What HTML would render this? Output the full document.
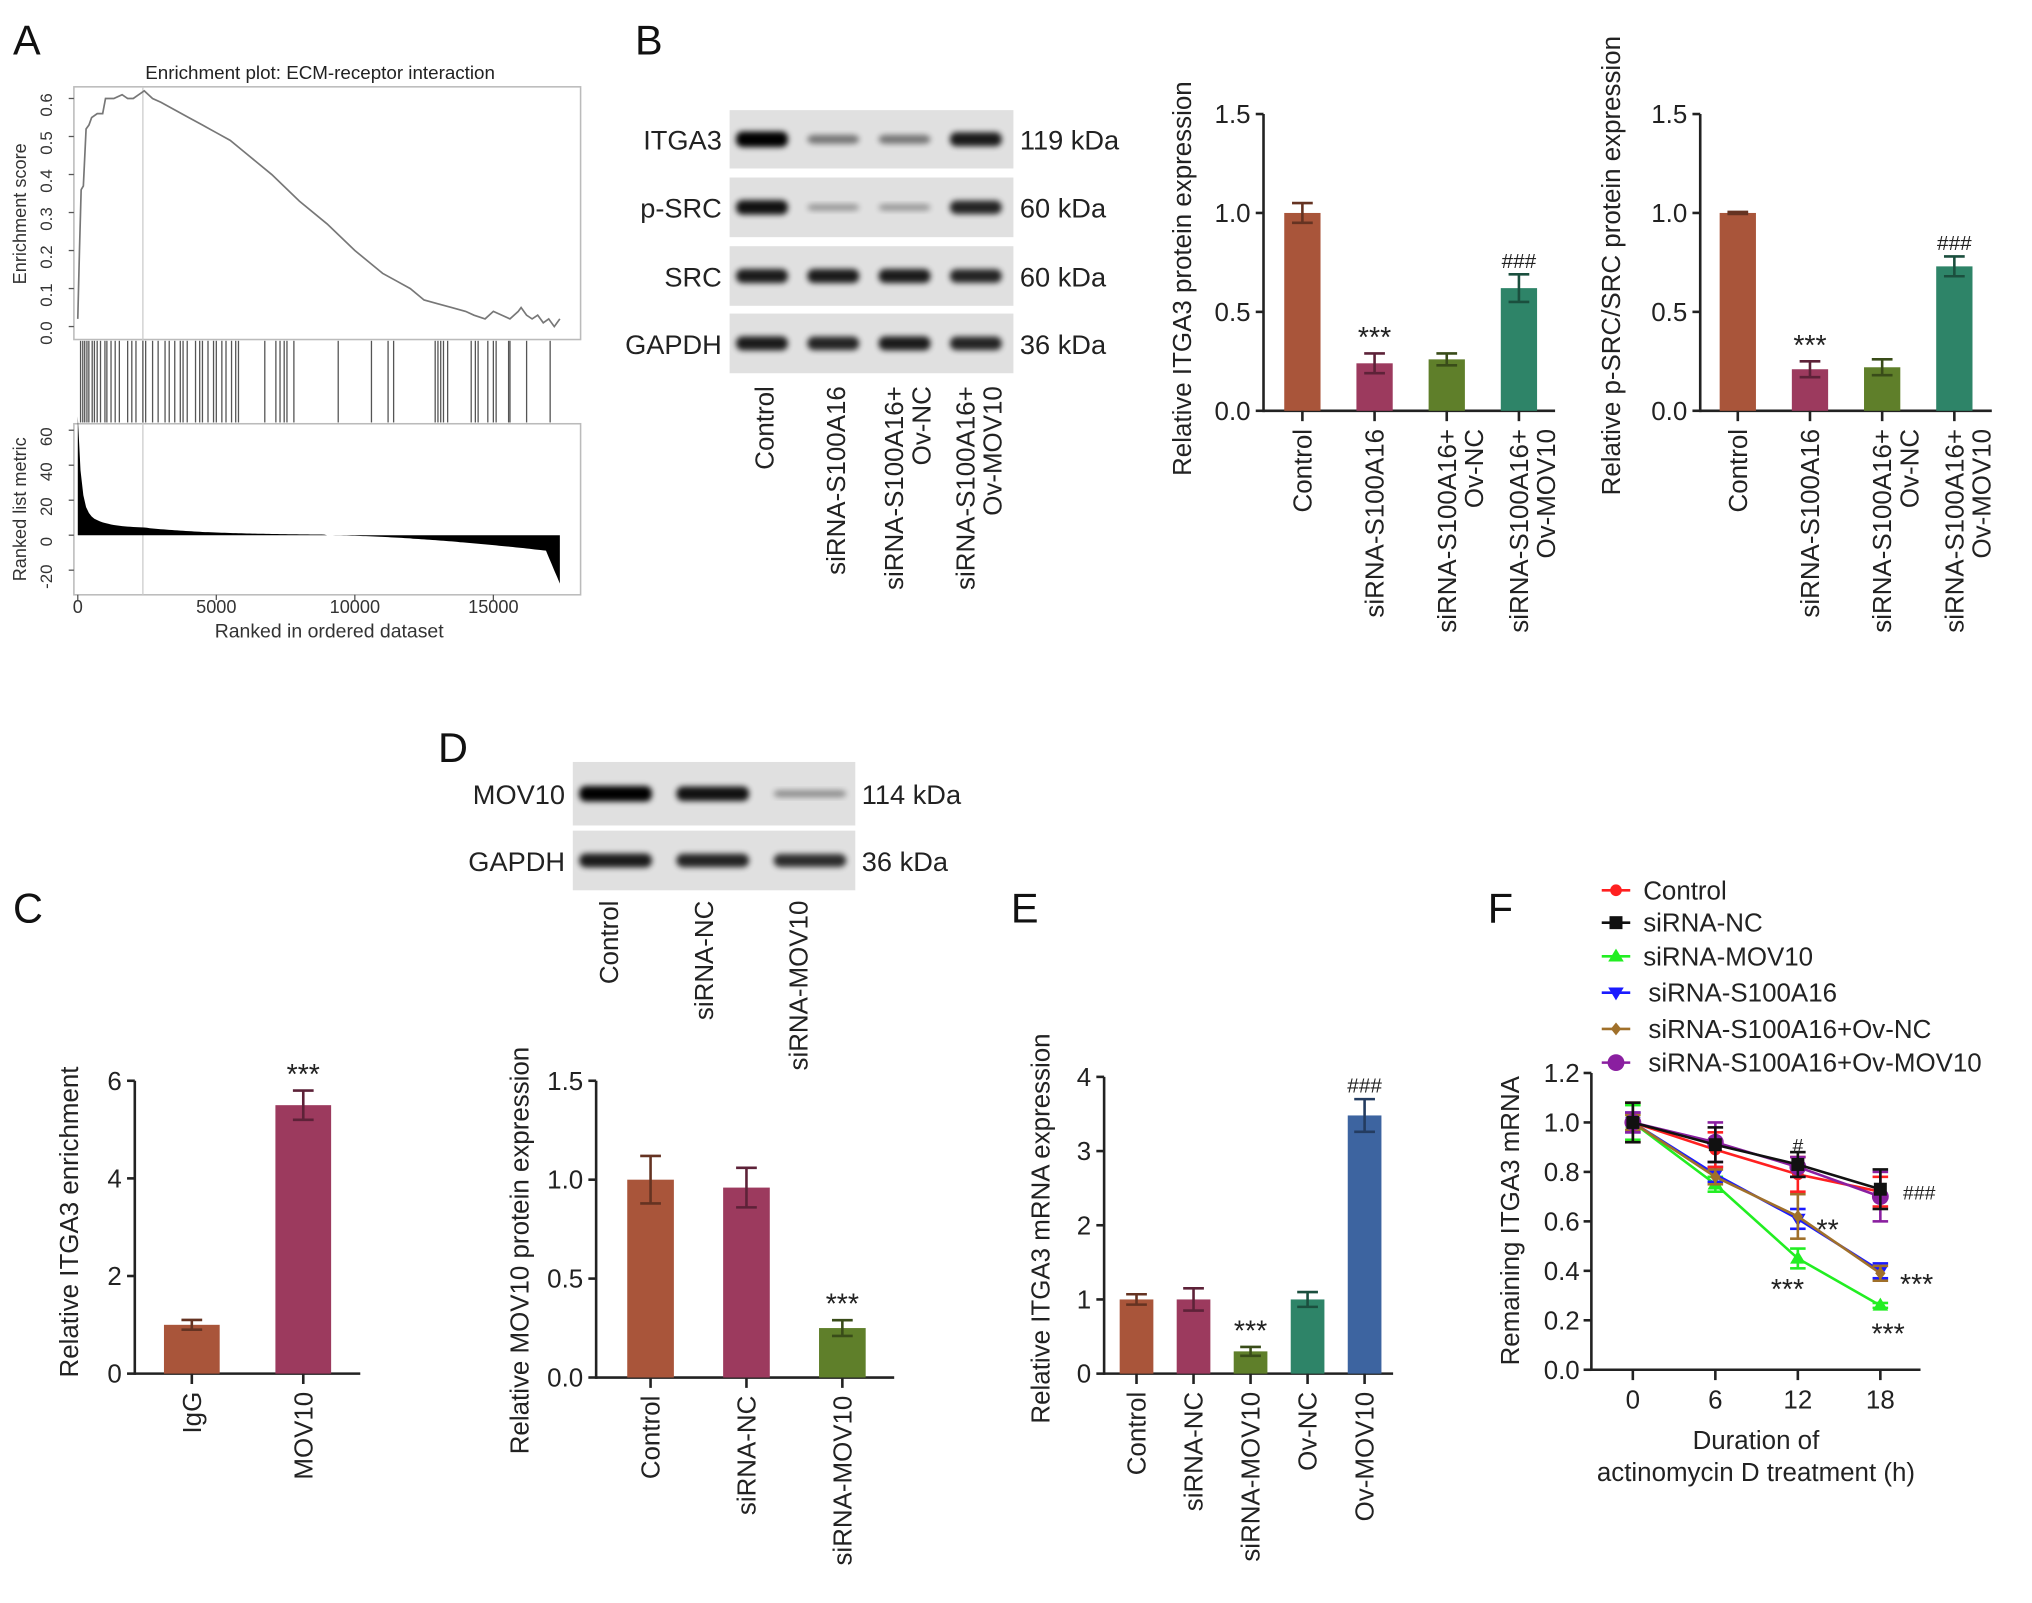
<!DOCTYPE html>
<html><head><meta charset="utf-8">
<style>
html,body{margin:0;padding:0;background:#fff;}
svg{display:block;font-family:"Liberation Sans",Arial,sans-serif;}
</style></head>
<body>
<svg id="fig" xmlns="http://www.w3.org/2000/svg" width="2032" height="1603" viewBox="0 0 1568 1237">
<defs>
<filter id="blur" x="-20%" y="-50%" width="140%" height="200%"><feGaussianBlur stdDeviation="2.2"/></filter>
</defs>
</svg>
<script>
// ---------- DATA ----------
const gseaRank = [0,60,120,200,300,400,500,700,900,1000,1300,1600,1800,2000,2200,2400,2700,3000,3500,4000,4500,5000,5500,6000,7000,8000,9000,10000,11000,11500,12000,12500,13000,13500,14000,14300,14700,15000,15300,15600,15900,16000,16200,16400,16600,16800,17000,17200,17400];
const gseaES = [0.02,0.2,0.36,0.37,0.52,0.53,0.55,0.56,0.56,0.6,0.6,0.61,0.6,0.6,0.61,0.62,0.6,0.59,0.57,0.55,0.53,0.51,0.49,0.46,0.4,0.33,0.27,0.2,0.14,0.12,0.1,0.07,0.06,0.05,0.04,0.03,0.02,0.04,0.03,0.02,0.04,0.05,0.03,0.02,0.03,0.01,0.02,0.0,0.02];
const gseaHits = [100,180,250,330,400,520,600,700,820,980,1050,1200,1350,1500,1800,1950,2100,2350,2450,2700,2900,3150,3300,3500,3700,3800,3950,4250,4400,4500,4700,4900,5000,5200,5350,5550,5700,5800,6750,7150,7300,7450,7550,7800,9400,10600,11200,11400,12900,13000,13100,13200,13350,14200,14350,14450,14800,15000,15100,15550,15600,16200,17050];
const gseaMetricTicks = [-20,0,20,40,60];
const gseaESTicks = [0,0.1,0.2,0.3,0.4,0.5,0.6];
const gseaXTicks = [0,5000,10000,15000];

const bGroups = ["Control","siRNA-S100A16","siRNA-S100A16+\nOv-NC","siRNA-S100A16+\nOv-MOV10"];
const itga3Vals = [1.0,0.24,0.26,0.62];
const itga3Err = [0.05,0.05,0.03,0.07];
const psrcVals = [1.0,0.21,0.22,0.73];
const psrcErr = [0.005,0.04,0.04,0.05];
const bTicks = [0.0,0.5,1.0,1.5];
const bColors = ["#A9553A","#9C3A5E","#5F7F2A","#2E8468"];

const cGroups = ["IgG","MOV10"];
const cVals = [1.0,5.5];
const cErr = [0.1,0.3];
const cTicks = [0,2,4,6];

const dGroups = ["Control","siRNA-NC","siRNA-MOV10"];
const dVals = [1.0,0.96,0.25];
const dErr = [0.12,0.1,0.04];
const dTicks = [0.0,0.5,1.0,1.5];

const eGroups = ["Control","siRNA-NC","siRNA-MOV10","Ov-NC","Ov-MOV10"];
const eVals = [1.0,1.0,0.3,1.0,3.48];
const eErr = [0.07,0.15,0.06,0.1,0.22];
const eTicks = [0,1,2,3,4];

const fTimes = [0,6,12,18];
const fTicksY = [0.0,0.2,0.4,0.6,0.8,1.0,1.2];
const fNames = ["Control","siRNA-NC","siRNA-MOV10","siRNA-S100A16","siRNA-S100A16+Ov-NC","siRNA-S100A16+Ov-MOV10"];
const fControl = [1.0,0.89,0.79,0.72];
const fNC = [1.0,0.91,0.83,0.73];
const fMOV10 = [1.0,0.75,0.45,0.26];
const fS100 = [1.0,0.79,0.61,0.40];
const fOvNC = [1.0,0.78,0.62,0.39];
const fOvMOV = [1.0,0.92,0.82,0.70];
const fErrControl = [0.08,0.07,0.07,0.06];
const fErrNC = [0.08,0.07,0.05,0.08];
const fErrMOV10 = [0.07,0.03,0.04,0.01];
const fErrS100 = [0.04,0.03,0.04,0.03];
const fErrOvNC = [0.03,0.03,0.09,0.03];
const fErrOvMOV = [0.04,0.08,0.04,0.1];

// ---------- HELPERS ----------
const NS="http://www.w3.org/2000/svg";
const svg=document.getElementById('fig');
function el(tag,attrs,name,parent){
  const e=document.createElementNS(NS,tag);
  for(const k in attrs) e.setAttribute(k,attrs[k]);
  
  
  (parent||svg).appendChild(e);
  return e;
}
function txt(x,y,s,size,name,opts){
  opts=opts||{};
  const a={x:x,y:y,'font-size':size,fill:opts.fill||'#222','text-anchor':opts.anchor||'middle'};
  if(opts.rot!==undefined) a.transform='rotate('+opts.rot+' '+x+' '+y+')';
  const t=el('text',a,name,opts.parent);
  const lines=String(s).split('\n');
  if(lines.length===1){t.textContent=s;}
  else lines.forEach((l,i)=>{const sp=document.createElementNS(NS,'tspan');sp.setAttribute('x',x);sp.setAttribute('dy',i===0?0:size*1.05);sp.textContent=l;t.appendChild(sp);});
  return t;
}
function line(x1,y1,x2,y2,stroke,w,name){return el('line',{x1:x1,y1:y1,x2:x2,y2:y2,stroke:stroke,'stroke-width':w},name);}
function darker(c){const n=parseInt(c.slice(1),16);const r=(n>>16)*0.6|0,g=((n>>8)&255)*0.6|0,b=(n&255)*0.6|0;return 'rgb('+r+','+g+','+b+')';}

// ---------- PANEL LETTERS ----------
[["A",10,42],["B",490,42],["C",10,712],["D",338,588],["E",780,712],["F",1148,712]].forEach(p=>txt(p[1],p[2],p[0],32,'panel-label-'+p[0].toLowerCase(),{anchor:'start',fill:'#111'}));

// ---------- PANEL A : GSEA ----------
(function(){
  const L=57,R=448,T1=67,B1=262,T2=327,B2=459;
  const xr=[60,432];
  const xs=v=>xr[0]+(v/17400)*(xr[1]-xr[0]);
  const esY=v=>252-(v/0.6)*(252-76);
  const mY=v=>413-(v/60)*(413-332);
  txt(247,61,'Enrichment plot: ECM-receptor interaction',14.5,'gsea-title');
  el('rect',{x:L,y:T1,width:R-L,height:B1-T1,fill:'none',stroke:'#bbb','stroke-width':1.2},'es-plot-frame');
  el('rect',{x:L,y:T2,width:R-L,height:B2-T2,fill:'none',stroke:'#bbb','stroke-width':1.2},'metric-plot-frame');
  line(xs(2350),T1,xs(2350),B2,'#ccc',1,'leading-edge-line');
  gseaESTicks.forEach(v=>{line(L-4,esY(v),L,esY(v),'#555',1,'es-tick');txt(40,esY(v)+5,v.toFixed(1),13,'es-tick-label',{rot:-90,fill:'#333'});});
  txt(20,165,'Enrichment score',14,'es-axis-title',{rot:-90,fill:'#333'});
  let d='';gseaRank.forEach((r,i)=>{d+=(i?'L':'M')+xs(r).toFixed(1)+' '+esY(gseaES[i]).toFixed(1);});
  el('path',{d:d,fill:'none',stroke:'#777','stroke-width':1.3},'enrichment-curve');
  gseaHits.forEach(h=>line(xs(h),263,xs(h),326,'#555',1,'hit-bar'));
  let m='M'+xs(0)+' '+mY(0);
  for(let r=0;r<=17400;r+=100){let v;
    if(r<2500) v=4+52*Math.exp(-r/120)+12*Math.exp(-r/700);
    else if(r<9000) v=4.2*Math.exp(-(r-2500)/2500);
    else v=-Math.pow((r-9000)/8000,1.6)*9-(r>16900?(r-16900)/500*18:0);
    m+='L'+xs(r).toFixed(1)+' '+mY(v).toFixed(1);}
  m+='L'+xs(17400)+' '+mY(0)+'Z';
  el('path',{d:m,fill:'#000'},'ranked-metric-area');
  gseaMetricTicks.forEach(v=>{line(L-4,mY(v),L,mY(v),'#555',1,'metric-tick');txt(40,mY(v)+5,String(v),13,'metric-tick-label',{rot:-90,fill:'#333'});});
  txt(20,393,'Ranked list metric',14,'metric-axis-title',{rot:-90,fill:'#333'});
  gseaXTicks.forEach(v=>{line(xs(v),B2,xs(v),B2+4,'#555',1,'x-tick');txt(xs(v),473,String(v),14,'x-tick-label',{fill:'#333'});});
  txt(254,492,'Ranked in ordered dataset',15,'x-axis-title',{fill:'#333'});
})();

// ---------- BLOTS ----------
function blot(x0,x1,rows,lanes,name){
  rows.forEach(r=>{
    el('rect',{x:x0,y:r.y0,width:x1-x0,height:r.y1-r.y0,fill:'#e0e0e0'},name+'-membrane');
    txt(x0-6,(r.y0+r.y1)/2+8,r.label,21,name+'-row-label',{anchor:'end'});
    txt(x1+5,(r.y0+r.y1)/2+8,r.kda,21,name+'-kda-label',{anchor:'start'});
    const cy=(r.y0+r.y1)/2;
    lanes.forEach((lx,i)=>{
      const s=r.int[i];
      el('rect',{x:lx-(r.w||20),y:cy-2-4*s,width:2*(r.w||20),height:4+8*s,rx:5,fill:'#000',opacity:0.2+0.8*s,filter:'url(#blur)'},name+'-band');
    });
  });
}
blot(563,782,[
 {y0:85,y1:130,label:'ITGA3',kda:'119 kDa',int:[1,0.35,0.35,0.85]},
 {y0:137,y1:183,label:'p-SRC',kda:'60 kDa',int:[0.9,0.15,0.15,0.8]},
 {y0:190,y1:236,label:'SRC',kda:'60 kDa',int:[0.85,0.85,0.85,0.8]},
 {y0:242,y1:288,label:'GAPDH',kda:'36 kDa',int:[0.85,0.8,0.85,0.8]}
],[588,643,698,753],'b-blot');
["Control","siRNA-S100A16","siRNA-S100A16+\nOv-NC","siRNA-S100A16+\nOv-MOV10"].forEach((g,i)=>{
  const x=[597,652,697,752][i];
  txt(x,298,g,20,'b-blot-lane-label',{anchor:'end',rot:-90});
});
blot(442,660,[
 {y0:588,y1:637,label:'MOV10',kda:'114 kDa',int:[1,0.9,0.2],w:28},
 {y0:641,y1:687,label:'GAPDH',kda:'36 kDa',int:[0.85,0.8,0.75],w:28}
],[475,550,625],'d-blot');
["Control","siRNA-NC","siRNA-MOV10"].forEach((g,i)=>{
  txt([477,550,623][i],695,g,20,'d-blot-lane-label',{anchor:'end',rot:-90});
});

// ---------- BAR CHART ----------
function barChart(o){
  const ys=v=>o.y0-(v/o.ymax)*(o.y0-o.yTop);
  line(o.ax,o.y0+1,o.ax,o.yTop,'#222',2,o.name+'-y-axis');
  line(o.ax,o.y0,o.xEnd,o.y0,'#222',2,o.name+'-x-axis');
  o.ticks.forEach(t=>{line(o.ax-6,ys(t),o.ax,ys(t),'#222',2,o.name+'-y-tick');
    txt(o.ax-10,ys(t)+7,o.fmt?o.fmt(t):String(t),20,o.name+'-y-tick-label',{anchor:'end'});});
  txt(o.ylx,o.yly,o.ylabel,20,o.name+'-y-axis-title',{rot:-90});
  o.vals.forEach((v,i)=>{
    const cx=o.x0+i*o.step;
    el('rect',{x:cx-o.bw/2,y:ys(v),width:o.bw,height:o.y0-ys(v),fill:o.colors[i]},o.name+'-bar-'+i);
    const dc=darker(o.colors[i]),e=o.err[i];
    line(cx,ys(v+e),cx,ys(v-e),dc,2,o.name+'-error-bar');
    line(cx-8,ys(v+e),cx+8,ys(v+e),dc,2,o.name+'-error-cap');
    line(cx-8,ys(v-e),cx+8,ys(v-e),dc,2,o.name+'-error-cap');
    line(cx,o.y0,cx,o.y0+8,'#222',2,o.name+'-x-tick');
    txt(cx+7,o.y0+14,o.groups[i],20,o.name+'-x-tick-label',{anchor:'end',rot:-90});
    if(o.marks[i]) txt(cx,ys(v+e)-5,o.marks[i],o.marks[i][0]==='#'?16:22,o.name+'-significance',{fill:'#222'});
  });
}
const f1=v=>v.toFixed(1);
barChart({name:'itga3-chart',ax:975,y0:317,yTop:88,ymax:1.5,xEnd:1200,x0:1005,step:55.7,bw:28,vals:itga3Vals,err:itga3Err,colors:bColors,groups:bGroups,ticks:bTicks,fmt:f1,ylabel:'Relative ITGA3 protein expression',ylx:919,yly:215,marks:['','***','','###']});
barChart({name:'psrc-chart',ax:1312,y0:317,yTop:88,ymax:1.5,xEnd:1537,x0:1341,step:55.7,bw:28,vals:psrcVals,err:psrcErr,colors:bColors,groups:bGroups,ticks:bTicks,fmt:f1,ylabel:'Relative p-SRC/SRC protein expression',ylx:1250,yly:205,marks:['','***','','###']});
barChart({name:'c-chart',ax:104,y0:1060,yTop:834,ymax:6,xEnd:278,x0:148,step:86,bw:43,vals:cVals,err:cErr,colors:["#A9553A","#9C3A5E"],groups:cGroups,ticks:cTicks,ylabel:'Relative ITGA3 enrichment',ylx:60,yly:943,marks:['','***']});
barChart({name:'d-chart',ax:460,y0:1063,yTop:834,ymax:1.5,xEnd:690,x0:502,step:74,bw:36,vals:dVals,err:dErr,colors:["#A9553A","#9C3A5E","#5F7F2A"],groups:dGroups,ticks:dTicks,fmt:f1,ylabel:'Relative MOV10 protein expression',ylx:408,yly:965,marks:['','','***']});
barChart({name:'e-chart',ax:852,y0:1060,yTop:831,ymax:4,xEnd:1075,x0:877,step:44,bw:26,vals:eVals,err:eErr,colors:["#A9553A","#9C3A5E","#5F7F2A","#2E8468","#3D64A0"],groups:eGroups,ticks:eTicks,ylabel:'Relative ITGA3 mRNA expression',ylx:810,yly:948,marks:['','','***','','###']});

// ---------- PANEL F ----------
(function(){
  const ax=1228,y0=1057,yTop=828,xEnd=1482;
  const xs=t=>1260+(t/18)*(1451-1260);
  const ys=v=>y0-(v/1.2)*(y0-yTop);
  line(ax,y0+1,ax,yTop,'#222',2,'f-y-axis');
  line(ax,y0,xEnd,y0,'#222',2,'f-x-axis');
  fTicksY.forEach(t=>{line(ax-6,ys(t),ax,ys(t),'#222',2,'f-y-tick');txt(ax-9,ys(t)+7,t.toFixed(1),20,'f-y-tick-label',{anchor:'end'});});
  fTimes.forEach(t=>{line(xs(t),y0,xs(t),y0+8,'#222',2,'f-x-tick');txt(xs(t),y0+30,String(t),20,'f-x-tick-label');});
  txt(1355,1118,'Duration of',20,'f-x-axis-title');
  txt(1355,1143,'actinomycin D treatment (h)',20,'f-x-axis-title');
  txt(1172,942,'Remaining ITGA3 mRNA',20,'f-y-axis-title',{rot:-90});
  const series=[fControl,fNC,fMOV10,fS100,fOvNC,fOvMOV];
  const errs=[fErrControl,fErrNC,fErrMOV10,fErrS100,fErrOvNC,fErrOvMOV];
  const cols=['#FF2020','#111','#22EE22','#1A1AFF','#A0702A','#8A1FA0'];
  const shapes=['circle','square','tri','itri','diamond','bigcircle'];
  function marker(x,y,s,c,name){
    if(s==='circle') return el('circle',{cx:x,cy:y,r:4.5,fill:c},name);
    if(s==='bigcircle') return el('circle',{cx:x,cy:y,r:6.5,fill:c},name);
    if(s==='square') return el('rect',{x:x-5,y:y-5,width:10,height:10,fill:c},name);
    if(s==='tri') return el('path',{d:`M${x} ${y-6}L${x+6} ${y+4}L${x-6} ${y+4}Z`,fill:c},name);
    if(s==='itri') return el('path',{d:`M${x} ${y+6}L${x+6} ${y-4}L${x-6} ${y-4}Z`,fill:c},name);
    return el('path',{d:`M${x} ${y-5}L${x+4} ${y}L${x} ${y+5}L${x-4} ${y}Z`,fill:c},name);
  }
  const order=[2,3,4,0,5,1];
  order.forEach(k=>{
    const s=series[k],c=cols[k];
    let d='';s.forEach((v,i)=>{d+=(i?'L':'M')+xs(fTimes[i])+' '+ys(v);});
    el('path',{d:d,fill:'none',stroke:c,'stroke-width':2},'f-line-'+k);
    s.forEach((v,i)=>{const x=xs(fTimes[i]),e=errs[k][i];
      line(x,ys(v+e),x,ys(v-e),c,2,'f-error-bar');
      line(x-6,ys(v+e),x+6,ys(v+e),c,2,'f-error-cap');
      line(x-6,ys(v-e),x+6,ys(v-e),c,2,'f-error-cap');
      marker(x,ys(v),shapes[k],c,'f-point');});
  });
  txt(xs(12),ys(0.9)+4,'#',15,'f-sig-hash');
  txt(xs(18)+30,ys(0.72)+6,'###',15,'f-sig-hash3');
  txt(xs(12)+23,ys(0.6)+14,'**',22,'f-sig-star');
  txt(xs(12)-8,ys(0.36)+14,'***',22,'f-sig-star');
  txt(xs(18)+28,ys(0.38)+14,'***',22,'f-sig-star');
  txt(xs(18)+6,ys(0.18)+14,'***',22,'f-sig-star');
  fNames.forEach((n,i)=>{
    const y=[687,712,738,766,794,820][i];
    line(1236,y,1258,y,cols[i],2,'legend-line');
    marker(1247,y,shapes[i],cols[i],'legend-marker');
    txt(i<3?1268:1272,y+7,n,20,'legend-entry',{anchor:'start'});
  });
})();
</script>
</body></html>
